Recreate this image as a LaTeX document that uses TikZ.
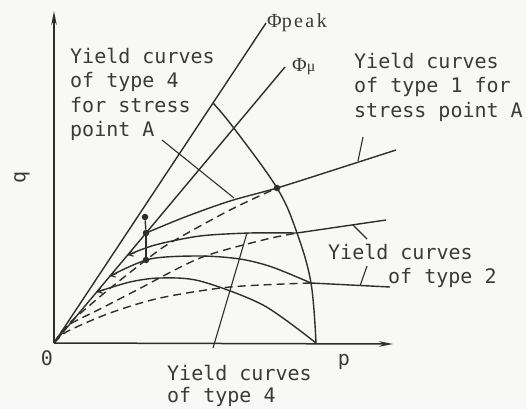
\documentclass[tikz,border=0pt]{standalone}
\usepackage{fontspec}
\setmainfont{Liberation Serif}
\newfontfamily\labfont{DejaVu Sans Mono}
\newfontfamily\phifont{Liberation Serif}
\usetikzlibrary{arrows.meta,calc}
\definecolor{ink}{HTML}{2E2E2E}
\definecolor{txt}{HTML}{3A3A3A}
\definecolor{paper}{HTML}{F8F8F6}
\begin{document}
\begin{tikzpicture}[x=1pt,y=-1pt,
  curve/.style={draw=ink,line width=1.4pt},
  dcurve/.style={draw=ink,line width=1.4pt,dash pattern=on 8pt off 5pt},
  leader/.style={draw=ink,line width=1.1pt},
  axis/.style={draw=ink,line width=1.5pt,-{Stealth[length=14pt,width=5.5pt]}},
  barb/.style={draw=ink,line width=1.1pt,-{Straight Barb[length=4pt,width=6pt]}},
  dot/.style={circle,fill=ink,inner sep=0pt,minimum size=6.5pt},
  lab/.style={font=\labfont\fontsize{20}{24.6}\selectfont,text=txt,align=left,inner sep=0pt,anchor=north west},
  sym/.style={font=\labfont\fontsize{20}{24}\selectfont,text=txt,inner sep=0pt},
  phi/.style={font=\phifont\fontsize{20}{22}\selectfont,text=txt,inner sep=0pt,anchor=west}
]
\fill[paper] (0,0) rectangle (526,409);
\useasboundingbox (0,0) rectangle (526,409);

% key points
\coordinate (O) at (54,343);
\coordinate (ytip) at (54,11);
\coordinate (xtip) at (393,344);
\coordinate (pkend) at (266,23);
\coordinate (muend) at (285,67);
\coordinate (Ak) at (213,103);
\coordinate (P2) at (297,233);
\coordinate (P3) at (311,283);
\coordinate (Q4) at (316,343);
\coordinate (S2) at (128,255);
\coordinate (S3) at (110,276);
\coordinate (S4) at (97,292);
\coordinate (E1) at (396,150);
\coordinate (E2) at (386,220);
\coordinate (E3) at (390,287);

\node[dot] (P1) at (277,188) {};
\node[dot] (Dt) at (145,217) {};
\node[dot] (Dm) at (146,233) {};
\node[dot] (Db) at (146,260) {};

% axes
\draw[axis] (O) -- (ytip);
\draw[axis] (O) -- (xtip);

% friction lines
\draw[curve] (O) -- (pkend);
\draw[curve] (O) -- (muend);

% big arc
\draw[curve] plot[smooth,tension=0.6] coordinates {(Ak) (233,127) (P1.center) (P2) (P3) (Q4)};

% solid yield curves
\draw[curve] plot[smooth] coordinates {(Dm.center) (185,217) (230,201) (P1.center) (340,168) (E1)};
\draw[curve] plot[smooth] coordinates {(S2) (155,245) (200,236) (250,233) (P2)};
\draw[curve] (P2) -- (E2);
\draw[curve] plot[smooth] coordinates {(S3) (150,259) (200,256) (240,259) (272,267) (P3)};
\draw[curve] (P3) -- (E3);
\draw[curve] plot[smooth] coordinates {(S4) (130,282) (160,278) (200,281) (263,305) (Q4)};

% small barbs at the curve starts
\draw[barb] ($(S2)+(7,-2.4)$) -- (S2);
\draw[barb] ($(S3)+(7,-2.6)$) -- (S3);
\draw[barb] ($(S4)+(7,-2.4)$) -- (S4);

% dashed curves from origin
\draw[dcurve] plot[smooth] coordinates {(O) (62,331) (75,318) (108,290) (Db.center) (170,243) (230,210) (P1.center)};
\draw[dcurve] plot[smooth] coordinates {(O) (62,332) (70,324) (100,309) (135,291) (200,258) (263,240) (P2)};
\draw[dcurve] plot[smooth] coordinates {(O) (60,337) (70,330) (110,313) (160,298) (230,287) (P3)};

% vertical segment with dots
\draw[curve] (Dt) -- (Dm);
\draw[curve] (Dm) -- (Db);

% labels
\node[lab] (t4A) at (70,47.5) {Yield curves\\of type 4\\for stress\\point A};
\node[lab] (t1A) at (354,52.5) {Yield curves\\of type 1 for\\stress point A};
\node[lab,font=\labfont\fontsize{20}{24}\selectfont] (t2) at (328,243.5) {Yield curves\\\hspace*{60pt}of type 2};
\node[lab,font=\labfont\fontsize{20}{22}\selectfont] (t4) at (167,364.5) {Yield curves\\of type 4};

\node[sym] (o) at (47,358) {0};
\node[sym] (p) at (344,362) {p};
\node[sym,rotate=90] (q) at (22,177) {q};

\node[phi] (phk) at (267,23) {Φ\addfontfeature{LetterSpace=12}peak};
\node[phi] (phm) at (292,67) {Φ{\fontsize{16}{16}\selectfont μ}};

% leaders
\coordinate (L1a) at (162,140); \coordinate (L1b) at (234,198);
\coordinate (L2a) at (358,161); \coordinate (L2b) at (363,137);
\coordinate (L3a) at (353,225); \coordinate (L3b) at (367,239);
\coordinate (L4a) at (360,286); \coordinate (L4b) at (367,266);
\coordinate (L5a) at (213,348); \coordinate (L5b) at (247,233);
\draw[leader] (L1a) -- (L1b);
\draw[leader] (L2a) -- (L2b);
\draw[leader] (L3a) -- (L3b);
\draw[leader] (L4a) -- (L4b);
\draw[leader] (L5a) -- (L5b);
\end{tikzpicture}
\end{document}
